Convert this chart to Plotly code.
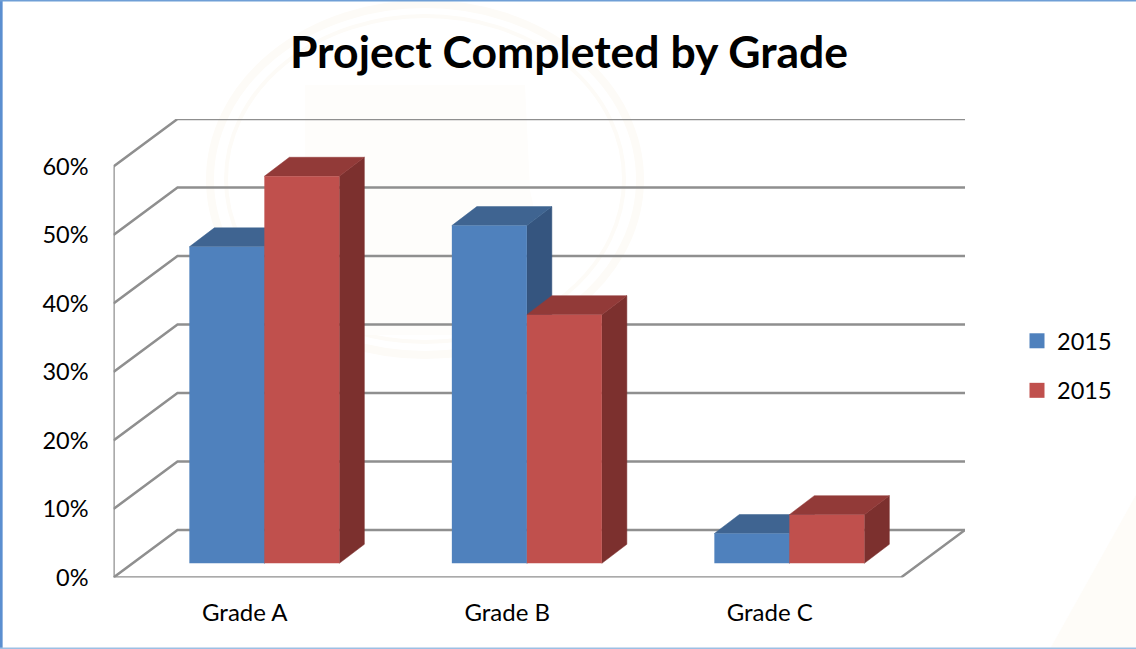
import plotly.graph_objects as go

# ---- data ----
categories = ["Grade A", "Grade B", "Grade C"]
series_names = ["2015", "2015"]
blue_values = [46.2, 49.3, 4.35]
red_values = [56.5, 36.3, 7.1]
y_ticks = [0, 10, 20, 30, 40, 50, 60]
y_tick_labels = ["0%", "10%", "20%", "30%", "40%", "50%", "60%"]
title_text = "Project Completed by Grade"

# ---- pseudo-3D geometry (style constants, in axis units) ----
W, H = 1136, 649
PX_X, PX_Y = 262.5, 6.85       # pixels per category / per percent
WALL_DX, WALL_DY = 64 / PX_X, 47.5 / PX_Y
BAR_DX, BAR_DY = 25 / PX_X, 19 / PX_Y
BAR_W = 75 / PX_X
BAR_BASE = 14.2 / PX_Y
GROUP_SHIFT = 19.6 / PX_X
X0, X1 = -0.5, 2.5
Y_TOP = y_ticks[-1] + WALL_DY
LEFT_PX, BOTTOM_PX = 113.5, 577.5

GRID = "#8f8f8f"
FONT = "Lato"
BLUE, BLUE_TOP, BLUE_SIDE = "#4f81bd", "#3f6491", "#35557f"
RED, RED_TOP, RED_SIDE = "#c0504d", "#923a38", "#7c302e"

fig = go.Figure()


def wall_trace():
    xs, ys = [], []
    for t in y_ticks:
        xs += [X0, X0 + WALL_DX, X1 + WALL_DX, None]
        ys += [t, t + WALL_DY, t + WALL_DY, None]
    xs += [X0, X0, None, X0, X1, X1 + WALL_DX, None]
    ys += [y_ticks[-1], 0, None, 0, 0, WALL_DY, None]
    return go.Scatter(x=xs, y=ys, mode="lines", line=dict(color=GRID, width=2.5),
                      showlegend=False, hoverinfo="skip", zorder=0)


def face_trace(xs, ys, color, z):
    return go.Scatter(x=xs, y=ys, mode="lines", fill="toself", fillcolor=color,
                      line=dict(color=color, width=0.5), showlegend=False,
                      hoverinfo="skip", zorder=z)


def add_series(values, name, offset, front, top, side, z):
    x_top, y_top, x_side, y_side = [], [], [], []
    for i, v in enumerate(values):
        l = i + offset
        r = l + BAR_W
        h = v + BAR_BASE
        x_top += [l, r, r + BAR_DX, l + BAR_DX, l, None]
        y_top += [h, h, h + BAR_DY, h + BAR_DY, h, None]
        x_side += [r, r + BAR_DX, r + BAR_DX, r, r, None]
        y_side += [BAR_BASE, BAR_BASE + BAR_DY, h + BAR_DY, h, BAR_BASE, None]
    fig.add_trace(face_trace(x_side, y_side, side, z))
    fig.add_trace(face_trace(x_top, y_top, top, z))
    fig.add_trace(go.Bar(x=list(range(len(values))), y=values, base=BAR_BASE, width=BAR_W,
                         offset=offset, name=name, marker=dict(color=front, line=dict(width=0)),
                         showlegend=False, zorder=z + 1))
    # legend entry with the reference's larger square swatch
    fig.add_trace(go.Scatter(x=[None], y=[None], mode="markers", name=name,
                             marker=dict(symbol="square", size=15, color=front),
                             legendgroup=name + str(z), showlegend=True))


fig.add_trace(wall_trace())
add_series(blue_values, series_names[0], GROUP_SHIFT - BAR_W, BLUE, BLUE_TOP, BLUE_SIDE, 1)
add_series(red_values, series_names[1], GROUP_SHIFT, RED, RED_TOP, RED_SIDE, 3)

x_range = [X0, X1 + WALL_DX]
y_range = [0, Y_TOP]
x_dom = [LEFT_PX / W, (LEFT_PX + (x_range[1] - x_range[0]) * PX_X) / W]
y_dom = [(H - BOTTOM_PX) / H, (H - BOTTOM_PX + Y_TOP * PX_Y) / H]

WM = "#fdfbf7"


def px(x):
    return x / W


def py(y):
    return 1 - y / H


shapes = [
    # faint watermark behind the plot
    dict(type="circle", xref="paper", yref="paper", layer="below",
         x0=px(210), x1=px(640), y0=py(355), y1=py(4), line=dict(color=WM, width=8)),
    dict(type="circle", xref="paper", yref="paper", layer="below",
         x0=px(226), x1=px(624), y0=py(342), y1=py(16), line=dict(color=WM, width=4)),
    dict(type="path", xref="paper", yref="paper", layer="below", fillcolor="#fefdfb",
         line=dict(width=0),
         path=(f"M {px(305)} {py(85)} L {px(525)} {py(85)} L {px(530)} {py(190)} "
               f"L {px(545)} {py(260)} L {px(500)} {py(335)} L {px(305)} {py(335)} Z")),
    dict(type="path", xref="paper", yref="paper", layer="below", fillcolor="#fefcf8", line=dict(width=0),
         path=f"M {px(1050)} {py(649)} L {px(1136)} {py(495)} L {px(1136)} {py(649)} Z"),
    # window frame
    dict(type="line", xref="paper", yref="paper", x0=0.001, x1=0.001, y0=0, y1=1,
         line=dict(color="#5b8fd0", width=3)),
    dict(type="line", xref="paper", yref="paper", x0=0, x1=1, y0=0.999, y1=0.999,
         line=dict(color="#6f9fd6", width=1.5)),
    dict(type="line", xref="paper", yref="paper", x0=0, x1=1, y0=0.001, y1=0.001,
         line=dict(color="#9dbfe4", width=1.5)),
]

fig.update_layout(
    width=W, height=H, margin=dict(l=0, r=0, t=0, b=0, autoexpand=False), autosize=False,
    paper_bgcolor="white", plot_bgcolor="rgba(0,0,0,0)", barmode="overlay",
    font=dict(family=FONT, color="#000000"),
    title=dict(text=title_text, x=569 / W, xanchor="center", y=1 - 52 / H, yanchor="middle",
               font=dict(family=FONT, size=44.5, color="#000000", weight="bold")),
    xaxis=dict(domain=x_dom, range=x_range, tickmode="array", tickvals=list(range(len(categories))),
               ticktext=categories, showgrid=False, zeroline=False, showline=False, ticks="",
               ticklabelstandoff=18, tickfont=dict(family=FONT, size=24), fixedrange=True),
    yaxis=dict(domain=y_dom, range=y_range, tickmode="array", tickvals=y_ticks,
               ticktext=y_tick_labels, showgrid=False, zeroline=False, showline=False, ticks="",
               ticklabelstandoff=24, tickfont=dict(family=FONT, size=23.5), fixedrange=True),
    legend=dict(x=1017 / W, xanchor="left", y=1 - 366 / H, yanchor="middle", traceorder="grouped",
                tracegroupgap=16, font=dict(family=FONT, size=23.5), bgcolor="rgba(0,0,0,0)"),
    shapes=shapes,
    showlegend=True,
)

fig.write_html("out.html", config=dict(displayModeBar=False),
               post_script="document.body.style.margin='0';document.body.style.overflow='hidden';")
